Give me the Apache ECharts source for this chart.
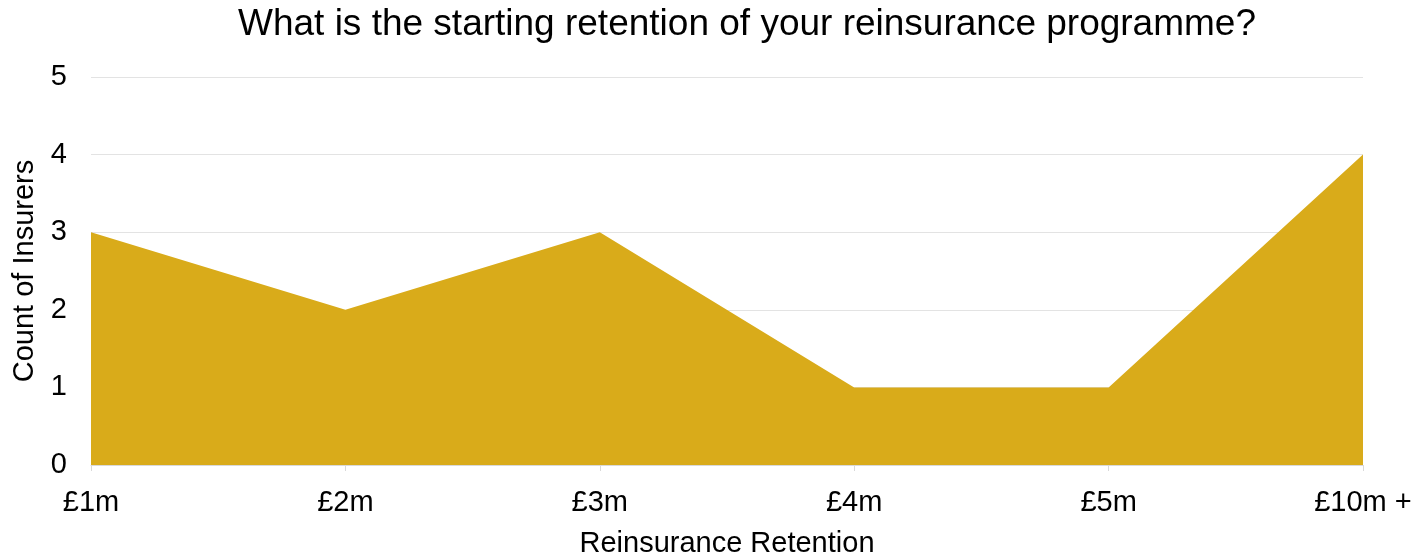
<!DOCTYPE html>
<html>
<head>
<meta charset="utf-8">
<script src="https://cdn.jsdelivr.net/npm/echarts@6/dist/echarts.min.js"></script>
<style>
  html, body { margin: 0; padding: 0; background: #fff; }
  #chart { width: 1417px; height: 556px; }
</style>
</head>
<body>
<div id="chart"></div>
<script>
const categories = ["£1m", "£2m", "£3m", "£4m", "£5m", "£10m +"];
const counts = [3, 2, 3, 1, 1, 4];

const chart = echarts.init(document.getElementById("chart"), null, { renderer: "canvas" });
const font = "'Liberation Sans', Arial, sans-serif";

chart.setOption({
  animation: false,
  textStyle: { fontFamily: font },
  title: {
    text: "What is the starting retention of your reinsurance programme?",
    left: 742,
    textAlign: "center",
    top: 1,
    textStyle: { fontFamily: font, fontSize: 37, fontWeight: "normal", color: "#000" }
  },
  grid: { left: 91, right: 54, top: 77, bottom: 91, containLabel: false, outerBoundsMode: "none" },
  xAxis: {
    type: "category",
    data: categories,
    boundaryGap: false,
    name: "Reinsurance Retention",
    nameLocation: "middle",
    nameGap: 64,
    nameTextStyle: { fontFamily: font, fontSize: 29, color: "#000" },
    axisLine: { lineStyle: { color: "#d9d9d9", width: 1 } },
    axisTick: { show: true, length: 6, lineStyle: { color: "#d9d9d9" } },
    axisLabel: { fontFamily: font, fontSize: 29, color: "#000", margin: 23 }
  },
  yAxis: {
    type: "value",
    min: 0,
    max: 5,
    interval: 1,
    name: "Count of Insurers",
    nameLocation: "middle",
    nameGap: 50,
    nameTextStyle: { fontFamily: font, fontSize: 29, color: "#000" },
    axisLine: { show: false },
    axisTick: { show: false },
    axisLabel: { fontFamily: font, fontSize: 29, color: "#000", margin: 24 },
    splitLine: { lineStyle: { color: "#e3e3e3", width: 1 } }
  },
  series: [{
    type: "line",
    data: counts,
    symbol: "none",
    lineStyle: { width: 0 },
    areaStyle: { color: "#d9ab1a", opacity: 1 },
    itemStyle: { color: "#d9ab1a" }
  }]
});
</script>
</body>
</html>
